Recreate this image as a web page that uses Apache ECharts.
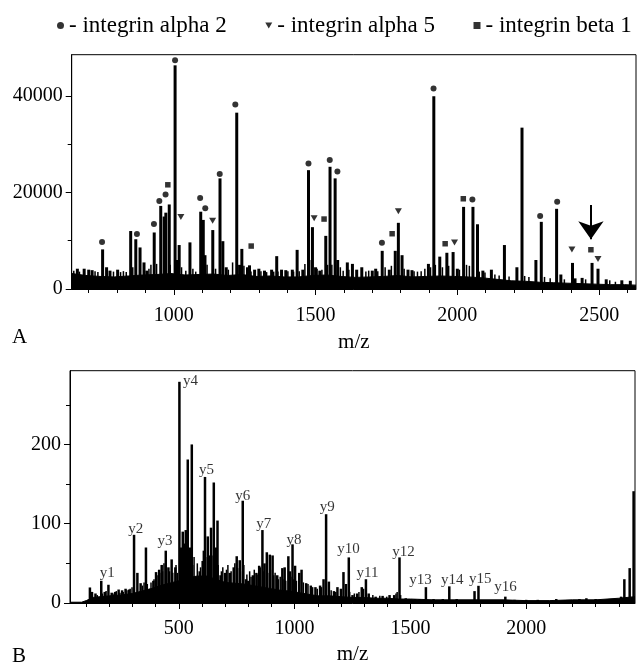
<!DOCTYPE html>
<html><head><meta charset="utf-8">
<script src="https://cdn.jsdelivr.net/npm/echarts@6/dist/echarts.min.js"></script>
<style>html,body{margin:0;padding:0;background:#fff}#c{width:642px;height:666px}</style>
</head><body><div id="c"></div>
<script>
const FONT = 'Liberation Serif';

// ---- Panel A: MALDI peptide mass fingerprint ----
const xRangeA = [640, 2630];
const yMaxA = 48500;
const xLabelsA = [1000, 1500, 2000, 2500];
const xMinorA = [700,800,900,1100,1200,1300,1400,1600,1700,1800,1900,2100,2200,2300,2400,2600];
const yLabelsA = [0, 20000, 40000];
const yMinorA = [10000, 30000];
const peaksA = [[660,4200],[684,4200],[700,4000],[712,3900],[749,8200],[763,4500],[775,3800],[802,4000],
 [848,12000],[866,10300],[881,8600],[895,5500],[905,3800],[931,11700],[954,17200],[966,15000],[972,15800],
 [984,17500],[1004.6,46300],[1012,6000],[1019,9100],[1057,9650],[1095,16000],[1104,14300],[1110,7000],
 [1137.5,12200],[1163,22900],[1173,9900],[1185,4500],[1222,36500],[1232,5000],[1240,8300],[1260,4500],
 [1267,4900],[1285,4000],[1300,4200],[1320,3800],[1345,4000],[1363,6800],[1380,4000],[1395,3900],[1418,4000],
 [1435,8100],[1455,4000],[1475,24600],[1489,12800],[1500,4500],[1515,3800],[1536,11000],[1551,25300],
 [1569,22900],[1578,6000],[1612,5500],[1630,5200],[1645,4000],[1663,4500],[1700,3800],[1712,4200],[1735,7900],
 [1760,4000],[1781,7900],[1792,13700],[1805,7000],[1826,4000],[1840,3900],[1898,5200],[1917,39900],[1938,6700],
 [1963,7500],[1985,7650],[2000,4200],[2022,17000],[2055,17000],[2071,13400],[2090,3800],[2120,4000],[2166,9100],
 [2210,4500],[2228,33400],[2277,6000],[2296,13900],[2350,16600],[2365,3000],[2406,5400],[2415,2200],[2440,2300],
 [2475,5400],[2496,4200],[2525,2000],[2580,1800],[2610,1700]];
const noiseA = [[650,3800],[670,3600],[725,3700],[735,3500],[790,3600],[815,3500],[825,3700],[835,3500],
 [858,4500],[915,4200],[922,5000],[942,5200],[990,5000],[1030,4500],[1045,3800],[1070,4200],[1080,3600],
 [1120,5000],[1150,4200],[1195,4000],[1210,5500],[1250,4800],[1275,3600],[1310,3700],[1330,3500],[1355,3600],
 [1370,3600],[1405,3700],[1425,3600],[1445,3700],[1465,5200],[1482,6000],[1508,4200],[1525,4000],[1545,5000],
 [1560,5000],[1590,4500],[1600,3800],[1620,4000],[1680,3600],[1690,3800],[1722,3700],[1748,4500],[1770,4800],
 [1815,4200],[1850,3700],[1862,3600],[1875,3700],[1888,4200],[1908,4500],[1925,5000],[1950,4500],[1972,4800],
 [2010,4000],[2035,5000],[2045,4800],[2080,3600],[2100,3400],[2135,3000],[2150,2800],[2185,2600],[2240,2700],
 [2255,2500],[2310,2500],[2330,2200],[2380,2000],[2455,2000],[2540,1800],[2560,1500]];
const baselineA = [[640,3200],[690,2800],[740,2600],[790,2500],[840,2700],[890,2900],[940,3000],[990,3200],
 [1040,2900],[1090,3000],[1140,3100],[1190,2800],[1240,3000],[1290,2600],[1340,2700],[1390,2500],[1440,2500],
 [1490,2800],[1540,2900],[1590,2600],[1640,2400],[1690,2500],[1740,2600],[1790,2800],[1840,2500],[1890,2600],
 [1940,2700],[1990,2600],[2040,2500],[2090,2300],[2140,2000],[2190,1700],[2240,1600],[2290,1400],[2340,1300],
 [2390,1200],[2440,1100],[2490,1000],[2540,900],[2590,900],[2630,800]];
const alpha2 = [[747,9720],[870,11370],[930,13440],[949,18200],[971,19580],[1004.5,47360],[1093,18820],
 [1111,16690],[1162,23780],[1217,38200],[1475,26000],[1550,26680],[1577,24340],[1734,9580],[1916,41500],
 [2053,18550],[2292,15100],[2352,18050]];
const alpha5 = [[1025,14890],[1137,14130],[1495,14620],[1792,16070],[1990,9650],[2404,8200],[2496,6200]];
const beta1 = [[979,21570],[1273,8890],[1530,14480],[1770,11440],[1957,9370],[2021,18680],[2471,8130]];
const arrowA = [[2471,17400],[2471,10300]];

// ---- Panel B: MS/MS fragment spectrum ----
const xRangeB = [30, 2470];
const yMaxB = 293;
const xLabelsB = [500, 1000, 1500, 2000];
const xMinorB = [100,200,300,400,600,700,800,900,1100,1200,1300,1400,1600,1700,1800,1900,2100,2200,2300,2400];
const yLabelsB = [0, 100, 200];
const yMinorB = [50, 150, 250];
const peaksB = [[116,19.6],[125,14],[140,12],[165,28],[180,14],[196,23],[210,13],[225,14],[240,17],[255,16],
 [270,18],[285,17],[306.6,86],[321,38],[335,25],[358,70],[375,18],[390,28],[401.6,39],[415,42],[426,48],
 [443.6,66],[455,45],[469,55],[485,45],[502.5,279],[510,70],[517,90],[525,75],[530,92],[538.6,181],[548,70],
 [556,200],[575,33],[590,40],[603,53],[613,159],[625,84],[632,60],[639,95],[651,152],[660,70],[667,104],
 [680,35],[700,38],[720,38],[737,45],[750,59],[763,54],[776,129],[790,30],[800,28],[820,35],[835,38],[847,47],
 [861,92],[870,50],[880,64],[893,61],[905,60],[925,35],[947,44],[957,45],[973,59],[980,40],[991,74],[1002,47],
 [1020,38],[1030,42],[1050,25],[1070,22],[1090,20],[1110,22],[1125,30],[1136,112],[1148,27],[1170,15],
 [1185,20],[1200,18],[1211,39],[1222,24],[1234,57.5],[1250,10],[1270,12],[1290,20],[1308,30],[1320,12],
 [1350,8],[1380,9],[1410,10],[1430,10],[1453,57.5],[1480,6],[1520,5],[1540,5],[1567,20],[1600,5],[1640,5],
 [1668,21],[1700,5],[1777,15],[1794,21.7],[1910,8],[1950,4],[2000,4],[2050,4],[2130,5],[2230,5],[2260,6],
 [2300,5],[2380,4],[2410,8],[2424,30],[2447,44],[2464,141]];
const noiseB = [[150,10],[172,12],[188,15],[218,12],[232,15],[248,13],[262,14],[278,16],[292,18],[300,20],
 [345,22],[352,26],[366,24],[382,26],[395,30],[408,35],[420,38],[432,40],[438,50],[448,43],[462,40],[476,38],
 [490,48],[496,38],[508,60],[520,55],[534,50],[544,62],[552,55],[562,48],[568,58],[582,50],[596,45],[608,66],
 [618,58],[628,70],[645,60],[655,55],[672,48],[686,40],[692,45],[708,42],[714,48],[728,40],[744,50],[756,44],
 [768,40],[783,48],[796,36],[808,40],[814,33],[828,42],[840,36],[854,45],[866,40],[886,38],[898,42],[912,35],
 [918,38],[932,30],[940,33],[952,30],[964,28],[986,33],[996,30],[1010,28],[1040,26],[1060,24],[1080,20],
 [1100,18],[1118,20],[1160,16],[1180,14],[1240,14],[1260,12],[1280,14],[1300,18],[1340,10],[1370,9],[1400,8],
 [1440,12],[1445,14],[1460,10]];
const baselineB = [[30,1],[80,1],[100,3],[130,7],[160,8],[200,9],[250,10],[300,12],[340,15],[380,18],[420,22],
 [460,25],[500,28],[540,32],[580,34],[620,34],[660,30],[700,26],[740,25],[780,24],[820,22],[860,20],[900,18],
 [940,16],[980,15],[1020,13],[1060,11],[1100,9],[1150,9],[1200,8],[1250,7],[1300,7],[1350,6],[1400,6],
 [1450,5],[1500,5],[1600,4],[1700,4],[1800,4],[1900,4],[2000,3],[2100,3],[2200,4],[2300,4],[2400,6],[2470,8]];
const ionLabels = [[191,38,'y1'],[314,93,'y2'],[440,78,'y3'],[550,280,'y4'],[619,168,'y5'],[776,135,'y6'],
 [867,99,'y7'],[997,80,'y8'],[1141,121,'y9'],[1233,68,'y10'],[1315,38,'y11'],[1470,64.6,'y12'],
 [1544,28.7,'y13'],[1681,28.7,'y14'],[1802,29.6,'y15'],[1911,19.6,'y16']];

const legendNames = ['integrin alpha 2', 'integrin alpha 5', 'integrin beta 1'];
const TRI = 'path://M0,0L10,0L5,8.5Z';

const chart = echarts.init(document.getElementById('c'), null, {renderer: 'canvas'});
const txt = {color: '#000', fontFamily: FONT};
const plain = v => String(v);

function xAxes(gi, range, labels, minors, margin, nameGap) {
  return [
    {type: 'value', gridIndex: gi, min: range[0], max: range[1], position: 'bottom',
     name: 'm/z', nameLocation: 'middle', nameGap: nameGap,
     nameTextStyle: Object.assign({fontSize: 21}, txt),
     axisLine: {show: true, lineStyle: {color: '#000', width: 1}},
     axisTick: {show: true, length: 6, customValues: labels, lineStyle: {color: '#000'}},
     axisLabel: {show: true, customValues: labels, formatter: plain, margin: margin, fontSize: 20, fontFamily: FONT, color: '#000'},
     splitLine: {show: false}},
    {type: 'value', gridIndex: gi, min: range[0], max: range[1], position: 'bottom',
     axisLine: {show: false},
     axisTick: {show: true, length: 4, customValues: minors, lineStyle: {color: '#000'}},
     axisLabel: {show: false}, splitLine: {show: false}}
  ];
}
function yAxes(gi, max, labels, minors) {
  return [
    {type: 'value', gridIndex: gi, min: 0, max: max, position: 'left',
     axisLine: {show: true, lineStyle: {color: '#000', width: 1}},
     axisTick: {show: true, length: 6, customValues: labels, lineStyle: {color: '#000'}},
     axisLabel: {show: true, customValues: labels, formatter: plain, margin: 9, fontSize: 20, fontFamily: FONT, color: '#000'},
     splitLine: {show: false}},
    {type: 'value', gridIndex: gi, min: 0, max: max, position: 'left',
     axisLine: {show: false},
     axisTick: {show: true, length: 4, customValues: minors, lineStyle: {color: '#000'}},
     axisLabel: {show: false}, splitLine: {show: false}}
  ];
}

const stick = (data, gi, w) => ({type: 'bar', xAxisIndex: gi * 2, yAxisIndex: gi * 2, data: data, barWidth: w,
  barGap: '-100%', itemStyle: {color: '#000'}, silent: true});

const option = {
  animation: false,
  backgroundColor: '#fff',
  legend: {
    left: 52, top: 9, itemWidth: 7, itemHeight: 7, itemGap: 38.5,
    textStyle: Object.assign({fontSize: 23}, txt),
    formatter: n => '- ' + n,
    data: [{name: legendNames[0], icon: 'circle'}, {name: legendNames[1], icon: TRI}, {name: legendNames[2], icon: 'rect'}],
    selectedMode: false
  },
  grid: [
    {left: 71.7, right: 6, top: 54.7, height: 234.3, show: true, borderColor: '#000', borderWidth: 1, backgroundColor: 'transparent'},
    {left: 70, right: 7, top: 370.7, height: 234.3, show: true, borderColor: '#000', borderWidth: 1, backgroundColor: 'transparent'}
  ],
  xAxis: [].concat(xAxes(0, xRangeA, xLabelsA, xMinorA, 17, 43), xAxes(1, xRangeB, xLabelsB, xMinorB, 16, 41)),
  yAxis: [].concat(yAxes(0, yMaxA, yLabelsA, yMinorA), yAxes(1, yMaxB, yLabelsB, yMinorB)),
  graphic: [
    {type: 'text', left: 12, top: 327, style: {text: 'A', font: '21px "Liberation Serif"', fill: '#000'}},
    {type: 'text', left: 12, top: 646, style: {text: 'B', font: '21px "Liberation Serif"', fill: '#000'}}
  ],
  series: [
    {type: 'line', xAxisIndex: 0, yAxisIndex: 0, data: baselineA, symbol: 'none', silent: true,
     lineStyle: {color: '#000', width: 1}, areaStyle: {color: '#000', opacity: 1}},
    stick(noiseA, 0, 1.5),
    Object.assign(stick(peaksA, 0, 3), {
     markLine: {silent: true, symbol: ['none', 'arrow'], symbolSize: [19, 18], label: {show: false},
       lineStyle: {color: '#000', width: 2, type: 'solid'},
       data: [[{coord: arrowA[0]}, {coord: arrowA[1]}]]}}),
    {name: legendNames[0], type: 'scatter', xAxisIndex: 0, yAxisIndex: 0, data: alpha2, symbol: 'circle', symbolSize: 6, itemStyle: {color: '#000'}, z: 5},
    {name: legendNames[1], type: 'scatter', xAxisIndex: 0, yAxisIndex: 0, data: alpha5, symbol: TRI, symbolSize: [7, 6], itemStyle: {color: '#000'}, z: 5},
    {name: legendNames[2], type: 'scatter', xAxisIndex: 0, yAxisIndex: 0, data: beta1, symbol: 'rect', symbolSize: 5.5, itemStyle: {color: '#000'}, z: 5},
    {type: 'line', xAxisIndex: 2, yAxisIndex: 2, data: baselineB, symbol: 'none', silent: true,
     lineStyle: {color: '#000', width: 1}, areaStyle: {color: '#000', opacity: 1}},
    stick(noiseB, 1, 1.5),
    stick(peaksB, 1, 2.5),
    {type: 'scatter', xAxisIndex: 2, yAxisIndex: 2, data: ionLabels, symbolSize: 0, silent: true, z: 6,
     encode: {x: 0, y: 1},
     label: {show: true, position: 'inside', formatter: p => p.value[2], fontSize: 15, fontFamily: FONT, color: '#000'}}
  ]
};
chart.setOption(option);
</script>
</body></html>
